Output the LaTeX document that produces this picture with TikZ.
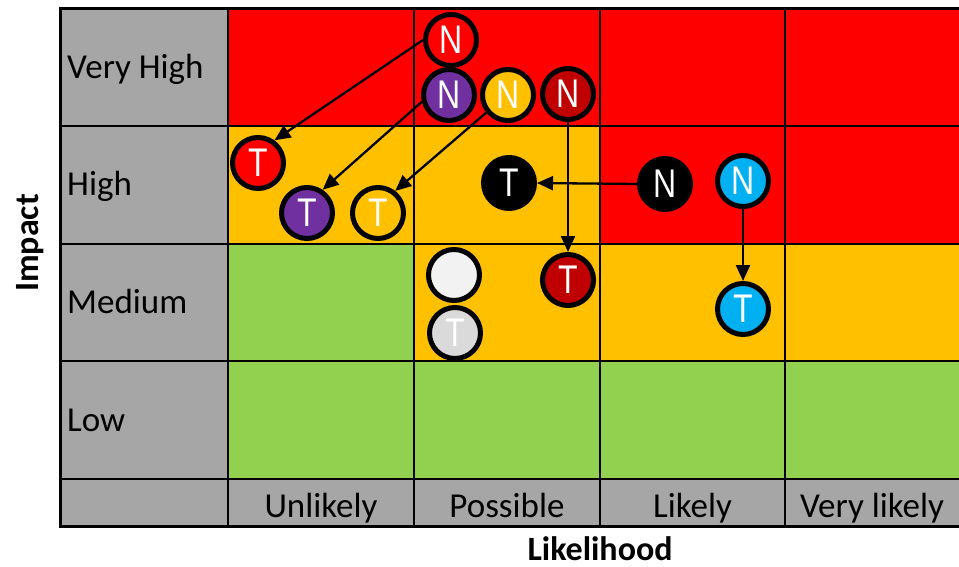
\documentclass[tikz,border=0pt]{standalone}
\usepackage{fontspec}
\setmainfont{Carlito}
\newfontfamily\arialf{Liberation Sans}
\usetikzlibrary{arrows.meta}
\definecolor{cred}{HTML}{FF0000}
\definecolor{camber}{HTML}{FFC000}
\definecolor{cgreen}{HTML}{92D050}
\definecolor{cgray}{HTML}{A6A6A6}
\definecolor{cpurple}{HTML}{7030A0}
\definecolor{cdark}{HTML}{C00000}
\definecolor{ccyan}{HTML}{00B0F0}
\definecolor{corange}{HTML}{FFC000}
\definecolor{clight}{HTML}{DADADA}
\definecolor{cpale}{HTML}{F2F2F2}
\begin{document}
\begin{tikzpicture}[x=1pt,y=-1pt,
  ball/.style={circle, draw=black, line width=5pt, minimum size=51pt, inner sep=0pt, text=white, font=\arialf\fontsize{40}{40}\selectfont},
  lab/.style={font=\fontsize{35}{35}\selectfont, anchor=base west, inner sep=0pt},
  clab/.style={font=\fontsize{35}{35}\selectfont, anchor=base, inner sep=0pt},
  axis/.style={font=\bfseries\fontsize{34}{34}\selectfont, inner sep=0pt},
  arr/.style={line width=2.3pt, -{Triangle[length=16pt,width=14pt]}},
  grid/.style={line width=1.5pt},
  frame/.style={line width=3pt}]
\useasboundingbox (0,0) rectangle (959,567);
% cells
\fill[cgray] (60,9) rectangle (228,526);
\fill[cgray] (228,479) rectangle (959,526);
% very high
\fill[cred] (228,9) rectangle (959,126);
% high
\fill[camber] (228,126) rectangle (600,244);
\fill[cred] (600,126) rectangle (959,244);
% medium
\fill[cgreen] (228,244) rectangle (414,361);
\fill[camber] (414,244) rectangle (959,361);
% low
\fill[cgreen] (228,361) rectangle (959,479);
% grid lines
\foreach \x in {228,414,600,785} \draw[grid] (\x,9) -- (\x,526);
\foreach \y in {126,244,361,479} \draw[grid] (60,\y) -- (960,\y);
\draw[frame] (960,9) -- (60,9) -- (60,526) -- (960,526);
% labels
\node[lab] (lvh) at (67,79) {Very High};
\node[lab] (lh) at (67,196) {High};
\node[lab] (lm) at (67,313) {Medium};
\node[lab] (ll) at (67,431) {Low};
\node[clab] (cu) at (321,517) {Unlikely};
\node[clab] (cp) at (507,517) {Possible};
\node[clab] (cl) at (692.5,517) {Likely};
\node[clab] (cv) at (872,517) {Very likely};
\node[axis, rotate=90] (impact) at (30,243) {Impact};
\node[axis] (likelihood) at (600,549) {Likelihood};
% balls
\node[ball, fill=cred] (nr) at (451,40) {\scalebox{0.8}[1]{N}};
\node[ball, fill=cpurple] (np) at (449,95) {\scalebox{0.8}[1]{N}};
\node[ball, fill=corange] (no) at (508,95) {\scalebox{0.8}[1]{N}};
\node[ball, fill=cdark] (nd) at (568,94) {\scalebox{0.8}[1]{N}};
\node[ball, fill=black] (nk) at (665,184) {\scalebox{0.8}[1]{N}};
\node[ball, fill=ccyan] (nc) at (743,181) {\scalebox{0.8}[1]{N}};
\node[ball, fill=cred] (tr) at (258,163) {\scalebox{0.8}[1]{T}};
\node[ball, fill=cpurple] (tp) at (307,213) {\scalebox{0.8}[1]{T}};
\node[ball, fill=corange] (to) at (378,213) {\scalebox{0.8}[1]{T}};
\node[ball, fill=black] (tk) at (509,183) {\scalebox{0.8}[1]{T}};
\node[ball, fill=cdark] (td) at (568,280) {\scalebox{0.8}[1]{T}};
\node[ball, fill=cpale] (tw1) at (454,275) {};
\node[ball, fill=clight] (tw2) at (455,333) {\scalebox{0.8}[1]{T}};
\node[ball, fill=ccyan] (tc) at (743,309) {\scalebox{0.8}[1]{T}};
% arrows
\draw[arr] (nr.west) -- (tr.54);
\draw[arr] (np.194) -- (tp.56);
\draw[arr] (no.219) -- (to.52);
\draw[arr] (nd.south) -- (td.north);
\draw[arr] (nk.west) -- (tk.east);
\draw[arr] (nc.south) -- (tc.north);
\end{tikzpicture}
\end{document}
